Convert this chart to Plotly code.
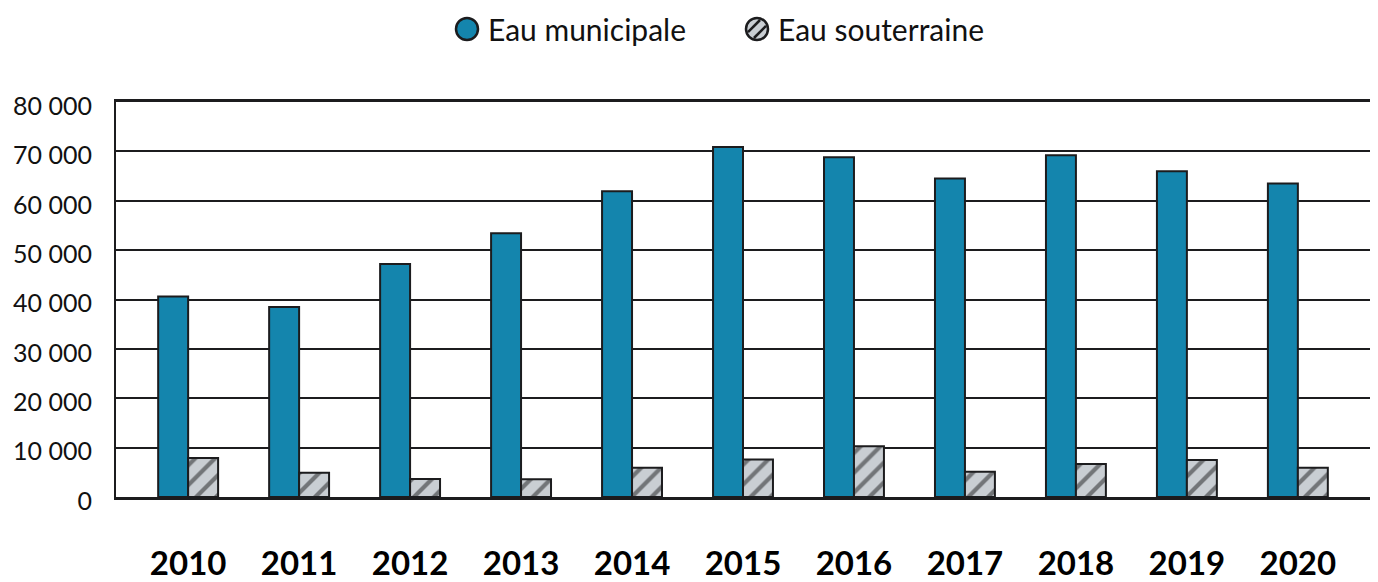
import math
import plotly.graph_objects as go

years = ["2010", "2011", "2012", "2013", "2014", "2015", "2016", "2017", "2018", "2019", "2020"]
eau_municipale = [40600, 38500, 47200, 53400, 61900, 70900, 68800, 64500, 69200, 66000, 63500]
eau_souterraine = [7900, 4900, 3650, 3600, 5900, 7600, 10300, 5100, 6700, 7500, 5900]
series_names = ["Eau municipale", "Eau souterraine"]
y_ticks = [0, 10000, 20000, 30000, 40000, 50000, 60000, 70000, 80000]
y_tick_labels = ["0", "10 000", "20 000", "30 000", "40 000", "50 000", "60 000", "70 000", "80 000"]

BLUE = "#1485ad"
GRAY = "#c9ced3"
DARK = "#1c1c1e"
FONT = "Lato"

# page is drawn with 8px body margin; figure fits the viewport inside it
W, H = 1370, 574
ML, MR, MT, MB = 108, 8, 94, 85
PW, PH = W - ML - MR, H - MT - MB

fig = go.Figure()
fig.add_trace(go.Bar(
    x=years, y=eau_municipale, name=series_names[0], showlegend=False,
    marker=dict(color=BLUE, line=dict(color=DARK, width=2)),
))
fig.add_trace(go.Bar(
    x=years, y=eau_souterraine, name=series_names[1], showlegend=False,
    marker=dict(color=GRAY, line=dict(color=DARK, width=2),
                pattern=dict(shape="/", fgcolor=DARK, bgcolor=GRAY, size=14, solidity=0.3)),
))

# custom legend (circular symbols, hatched for groundwater)
def px_x(fig_x):
    return (fig_x - ML) / PW

def px_y(fig_y):
    return 1 + (MT - fig_y) / PH

shapes = []
annotations = []
legend_items = [
    (series_names[0], BLUE, False, 459, 478),
    (series_names[1], GRAY, True, 749, 768),
]
R = 11
for name, color, hatched, cx, tx in legend_items:
    ax, ay = px_x(cx), px_y(21)
    shapes.append(dict(type="circle", xref="paper", yref="paper",
                       xsizemode="pixel", ysizemode="pixel", xanchor=ax, yanchor=ay,
                       x0=-R, x1=R, y0=-R, y1=R,
                       fillcolor=color, line=dict(color=DARK, width=2.5), layer="above"))
    if hatched:
        r_in = R - 1.5
        for d in (-4.2, 4.2):
            h = math.sqrt(r_in ** 2 - d ** 2)
            s = 1 / math.sqrt(2)
            bx, by = d * s, -d * s
            shapes.append(dict(type="line", xref="paper", yref="paper",
                               xsizemode="pixel", ysizemode="pixel", xanchor=ax, yanchor=ay,
                               x0=bx - h * s, y0=by - h * s, x1=bx + h * s, y1=by + h * s,
                               line=dict(color=DARK, width=2.5), layer="above"))
    annotations.append(dict(text=name, xref="paper", yref="paper", x=px_x(tx), y=ay,
                            xanchor="left", yanchor="middle", showarrow=False,
                            font=dict(size=30, family=FONT, color="#111111")))

fig.update_layout(
    width=W, height=H,
    margin=dict(l=ML, r=MR, t=MT, b=MB, autoexpand=False),
    paper_bgcolor="white", plot_bgcolor="white",
    barmode="group", bargap=0.46, bargroupgap=0,
    font=dict(family=FONT, color="#111111"),
    showlegend=False,
    shapes=shapes, annotations=annotations,
)
fig.update_xaxes(
    type="category", range=[-0.65, 10.65], automargin=False,
    showgrid=False, showline=True, linecolor=DARK, linewidth=2.5, mirror=True,
    tickfont=dict(size=33, family=FONT, color="#000000", weight="bold"),
    ticks="", ticklabelstandoff=36,
)
fig.update_yaxes(
    range=[0, 80000], tickvals=y_ticks, ticktext=y_tick_labels, automargin=False,
    showgrid=True, gridcolor=DARK, gridwidth=2,
    showline=True, linecolor=DARK, linewidth=2, zeroline=False,
    tickfont=dict(size=25, family=FONT, color="#111111"),
    ticks="", ticklabelstandoff=17, ticklabelshift=4,
)

fig.write_html("out.html")
